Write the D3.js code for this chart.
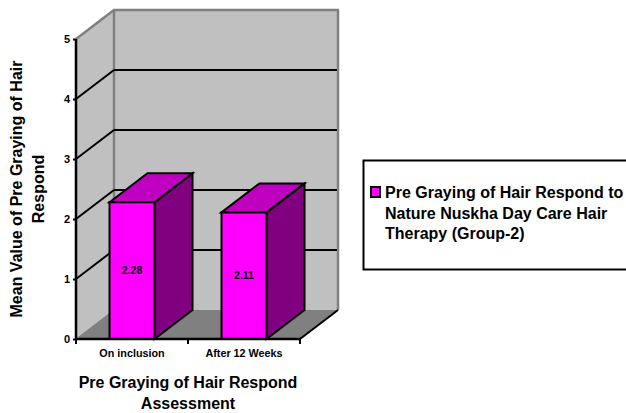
<!DOCTYPE html>
<html><head><meta charset="utf-8">
<script src="https://cdn.jsdelivr.net/npm/d3@7"></script>
<style>html,body{margin:0;padding:0;background:#fff}svg{display:block}text{font-family:"Liberation Sans",Arial,sans-serif;font-weight:bold;fill:#000}</style>
</head><body><svg id="c" width="626" height="413"></svg>
<script>
const categories = ["On inclusion", "After 12 Weeks"];
const seriesValues = [2.28, 2.11];
const seriesName = ["Pre Graying of Hair Respond to", "Nature Nuskha Day Care Hair", "Therapy (Group-2)"];
const yTicks = [0, 1, 2, 3, 4, 5];
const yTitle = ["Mean Value of Pre Graying of Hair", "Respond"];
const xTitle = ["Pre Graying of Hair Respond", "Assessment"];

const svg = d3.select("#c");
const y = d3.scaleLinear().domain([0, 5]).range([339, 39]);
const x = d3.scaleBand().domain(categories).range([76, 300]);
const dx = 38, dy = -29;
const barW = 45;
const line = d3.line();
const poly = (pts, fill, stroke, sw) => svg.append("path").attr("d", line(pts) + "Z")
  .attr("fill", fill).attr("stroke", stroke || "none").attr("stroke-width", sw || 0).attr("stroke-linejoin", "miter");
const seg = (a, b, c, w) => svg.append("line").attr("x1", a[0]).attr("y1", a[1]).attr("x2", b[0]).attr("y2", b[1])
  .attr("stroke", c).attr("stroke-width", w);

const L = x.range()[0], R = x.range()[1], Y0 = y(0), Y5 = y(5);
// walls and floor
poly([[L + dx, Y5 + dy], [R + dx, Y5 + dy], [R + dx, Y0 + dy], [L + dx, Y0 + dy]], "#c0c0c0");
poly([[L, Y5], [L + dx, Y5 + dy], [L + dx, Y0 + dy], [L, Y0]], "#c0c0c0");
poly([[L, Y0], [L + dx, Y0 + dy], [R + dx, Y0 + dy], [R, Y0]], "#808080");
// wall edges
seg([L, Y5], [L + dx, Y5 + dy], "#808080", 2.5);
seg([L + dx - 1, Y5 + dy], [R + dx + 1, Y5 + dy], "#808080", 2.5);
seg([L + dx, Y5 + dy], [L + dx, Y0 + dy], "#808080", 2.5);
seg([R + dx, Y5 + dy], [R + dx, Y0 + dy], "#808080", 2.5);
seg([L, Y0], [L + dx, Y0 + dy], "#808080", 1);
// gridlines
yTicks.filter(t => t > 0 && t < 5).forEach(t => {
  seg([L, y(t)], [L + dx, y(t) + dy], "#000", 2);
  seg([L + dx, y(t) + dy], [R + dx - 1, y(t) + dy], "#000", 2);
});
// bars
categories.forEach((c, i) => {
  const v = seriesValues[i];
  const x0 = x(c) + (x.bandwidth() - barW) / 2, x1 = x0 + barW, t = y(v);
  poly([[x1, t], [x1 + dx, t + dy], [x1 + dx, Y0 + dy], [x1, Y0]], "#800080", "#000", 2);
  poly([[x0, t], [x0 + dx, t + dy], [x1 + dx, t + dy], [x1, t]], "#c000c0", "#000", 2);
  poly([[x0, t], [x1, t], [x1, Y0], [x0, Y0]], "#ff00ff", "#000", 2);
  svg.append("text").attr("x", (x0 + x1) / 2).attr("y", (t + Y0) / 2 + 3.5).attr("text-anchor", "middle")
    .attr("font-size", 10.5).text(v.toFixed(2));
});
// axes
const yAxis = svg.append("g").attr("transform", `translate(${L},0)`)
  .call(d3.axisLeft(y).tickValues(yTicks).tickSize(3).tickPadding(3).tickFormat(d3.format("d")));
yAxis.select(".domain").attr("stroke-width", 2.5).attr("d", `M0,${Y5}V${Y0}`);
yAxis.selectAll(".tick line").attr("stroke-width", 2);
yAxis.selectAll(".tick text").attr("font-size", 11).style("font-family", '"Liberation Sans",Arial,sans-serif');
const xAxis = svg.append("g").attr("transform", `translate(0,${Y0})`)
  .call(d3.axisBottom(x).tickSize(0).tickPadding(10));
xAxis.select(".domain").attr("stroke-width", 2.5).attr("d", `M${L - 1},0H${R + 1}`);
xAxis.selectAll(".tick text").attr("font-size", 10.8).style("font-family", '"Liberation Sans",Arial,sans-serif');
[L, (L + R) / 2, R].forEach(px => seg([px, Y0], [px, Y0 + 5], "#000", 2));
seg([R, Y0], [R + dx, Y0 + dy], "#000", 2);
// titles
xTitle.forEach((s, i) => svg.append("text").attr("x", 188).attr("y", 388 + i * 21).attr("text-anchor", "middle")
  .attr("font-size", 16).text(s));
yTitle.forEach((s, i) => svg.append("text").attr("transform", `translate(${22 + i * 21.5},189) rotate(-90)`)
  .attr("text-anchor", "middle").attr("font-size", 16).text(s));
// legend
svg.append("rect").attr("x", 363.5).attr("y", 160.5).attr("width", 270).attr("height", 109)
  .attr("fill", "#fff").attr("stroke", "#000").attr("stroke-width", 2);
svg.append("rect").attr("x", 371).attr("y", 187).attr("width", 9).attr("height", 10)
  .attr("fill", "#ff00ff").attr("stroke", "#000").attr("stroke-width", 2);
seriesName.forEach((s, i) => svg.append("text").attr("x", 385).attr("y", 198 + i * 20.5).attr("font-size", 16).text(s));
</script></body></html>
